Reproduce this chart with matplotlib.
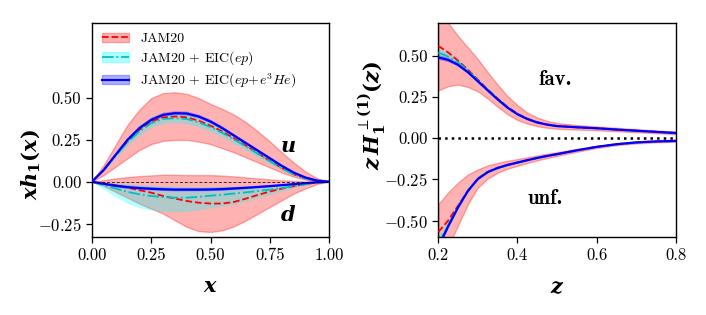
import numpy as np
import matplotlib
matplotlib.use("Agg")
import matplotlib.pyplot as plt
from matplotlib.patches import Patch
from matplotlib.lines import Line2D

plt.rcParams['font.family'] = 'serif'
plt.rcParams['font.serif'] = ['cmr10']
plt.rcParams['mathtext.fontset'] = 'cm'
plt.rcParams['axes.formatter.use_mathtext'] = True
plt.rcParams['mathtext.rm'] = 'DejaVu Serif:bold'
plt.rcParams['mathtext.it'] = 'DejaVu Serif:italic:bold'
plt.rcParams['mathtext.bf'] = 'DejaVu Serif:bold'

# ---------------- left panel: x h1(x) ----------------
x = [0, 0.05, 0.1, 0.15, 0.2, 0.25, 0.3, 0.35, 0.4, 0.45, 0.5,
     0.55, 0.6, 0.65, 0.7, 0.75, 0.8, 0.85, 0.9, 0.95, 1.0]

u_jam = [0, 0.07, 0.16, 0.24, 0.31, 0.36, 0.385, 0.39, 0.385, 0.365, 0.335,
         0.30, 0.258, 0.215, 0.17, 0.125, 0.082, 0.045, 0.019, 0.005, 0]
u_jam_hi = [0, 0.10, 0.22, 0.34, 0.43, 0.50, 0.53, 0.535, 0.525, 0.50, 0.465,
            0.435, 0.40, 0.355, 0.30, 0.24, 0.175, 0.115, 0.06, 0.02, 0]
u_jam_lo = [0, 0.04, 0.09, 0.14, 0.19, 0.225, 0.245, 0.25, 0.25, 0.24, 0.225,
            0.20, 0.175, 0.145, 0.115, 0.085, 0.055, 0.03, 0.012, 0.003, 0]
u_ep = [0, 0.07, 0.155, 0.235, 0.30, 0.35, 0.375, 0.38, 0.375, 0.355, 0.327,
        0.292, 0.252, 0.21, 0.166, 0.122, 0.08, 0.044, 0.019, 0.005, 0]
u_ep_hi = [0, 0.08, 0.175, 0.26, 0.33, 0.38, 0.405, 0.41, 0.405, 0.385, 0.357,
           0.32, 0.278, 0.233, 0.185, 0.137, 0.091, 0.052, 0.023, 0.006, 0]
u_ep_lo = [0, 0.06, 0.135, 0.21, 0.27, 0.32, 0.345, 0.35, 0.345, 0.325, 0.297,
           0.264, 0.226, 0.187, 0.147, 0.107, 0.069, 0.036, 0.015, 0.004, 0]
u_he = [0, 0.07, 0.16, 0.25, 0.32, 0.37, 0.40, 0.41, 0.408, 0.39, 0.36,
        0.32, 0.275, 0.23, 0.185, 0.14, 0.095, 0.055, 0.025, 0.007, 0]
u_he_hi = [0, 0.075, 0.168, 0.26, 0.332, 0.382, 0.412, 0.422, 0.42, 0.401, 0.371,
           0.331, 0.285, 0.239, 0.193, 0.147, 0.101, 0.059, 0.028, 0.008, 0]
u_he_lo = [0, 0.065, 0.152, 0.24, 0.308, 0.358, 0.388, 0.398, 0.396, 0.379, 0.349,
           0.309, 0.265, 0.221, 0.177, 0.133, 0.089, 0.051, 0.022, 0.006, 0]

d_jam = [0, -0.01, -0.02, -0.035, -0.05, -0.065, -0.085, -0.10, -0.115, -0.125, -0.13,
         -0.13, -0.12, -0.10, -0.078, -0.058, -0.041, -0.026, -0.013, -0.004, 0]
d_jam_hi = [0, 0.01, 0.02, 0.028, 0.034, 0.038, 0.042, 0.042, 0.04, 0.04, 0.04,
            0.037, 0.032, 0.026, 0.02, 0.014, 0.009, 0.005, 0.002, 0.0005, 0]
d_jam_lo = [0, -0.025, -0.06, -0.095, -0.13, -0.16, -0.19, -0.23, -0.27, -0.295, -0.30,
            -0.29, -0.265, -0.23, -0.19, -0.15, -0.11, -0.07, -0.04, -0.012, 0]
d_ep = [0, -0.02, -0.04, -0.06, -0.075, -0.085, -0.092, -0.095, -0.095, -0.09, -0.083,
        -0.077, -0.07, -0.063, -0.055, -0.047, -0.037, -0.026, -0.015, -0.005, 0]
d_ep_hi = [0, -0.005, -0.01, -0.015, -0.02, -0.025, -0.028, -0.03, -0.032, -0.033, -0.033,
           -0.032, -0.03, -0.028, -0.025, -0.022, -0.018, -0.013, -0.008, -0.003, 0]
d_ep_lo = [0, -0.045, -0.09, -0.13, -0.157, -0.172, -0.18, -0.182, -0.18, -0.172, -0.16,
           -0.15, -0.138, -0.12, -0.1, -0.08, -0.06, -0.04, -0.02, -0.007, 0]
d_he = [0, -0.012, -0.024, -0.032, -0.038, -0.042, -0.045, -0.047, -0.047, -0.047, -0.046,
        -0.044, -0.04, -0.036, -0.031, -0.026, -0.02, -0.014, -0.008, -0.003, 0]
d_he_hi = [0, -0.006, -0.015, -0.022, -0.028, -0.032, -0.035, -0.037, -0.037, -0.037, -0.036,
           -0.034, -0.031, -0.028, -0.024, -0.02, -0.015, -0.01, -0.005, -0.002, 0]
d_he_lo = [0, -0.018, -0.033, -0.042, -0.048, -0.052, -0.055, -0.057, -0.057, -0.057, -0.056,
           -0.054, -0.049, -0.044, -0.038, -0.032, -0.025, -0.018, -0.011, -0.004, 0]

# ---------------- right panel: z H1^(1)(z) ----------------
z = [0.2, 0.225, 0.25, 0.275, 0.3, 0.325, 0.35, 0.375, 0.4, 0.425, 0.45, 0.475, 0.5,
     0.55, 0.6, 0.65, 0.7, 0.75, 0.8]

fav_jam = [0.56, 0.52, 0.47, 0.415, 0.355, 0.295, 0.24, 0.19, 0.148, 0.118, 0.097, 0.083, 0.074,
           0.066, 0.06, 0.053, 0.046, 0.039, 0.032]
fav_jam_hi = [0.78, 0.70, 0.62, 0.55, 0.48, 0.40, 0.325, 0.255, 0.20, 0.155, 0.125, 0.105, 0.092,
              0.08, 0.071, 0.063, 0.055, 0.047, 0.04]
fav_jam_lo = [0.29, 0.315, 0.325, 0.31, 0.284, 0.24, 0.19, 0.145, 0.11, 0.088, 0.073, 0.063, 0.057,
              0.052, 0.048, 0.042, 0.036, 0.03, 0.024]
fav_ep = [0.52, 0.495, 0.46, 0.41, 0.35, 0.293, 0.237, 0.187, 0.146, 0.117, 0.096, 0.082, 0.073,
          0.066, 0.06, 0.052, 0.045, 0.038, 0.031]
fav_ep_hi = [0.55, 0.52, 0.48, 0.428, 0.366, 0.306, 0.248, 0.196, 0.153, 0.122, 0.1, 0.086, 0.077,
             0.07, 0.064, 0.056, 0.049, 0.042, 0.035]
fav_ep_lo = [0.49, 0.47, 0.44, 0.392, 0.334, 0.28, 0.226, 0.178, 0.139, 0.112, 0.092, 0.078, 0.069,
             0.062, 0.056, 0.048, 0.041, 0.034, 0.027]
fav_he = [0.49, 0.475, 0.445, 0.40, 0.345, 0.29, 0.235, 0.185, 0.145, 0.116, 0.095, 0.082, 0.073,
          0.066, 0.06, 0.052, 0.045, 0.038, 0.031]
fav_he_hi = [0.505, 0.488, 0.456, 0.41, 0.354, 0.298, 0.242, 0.191, 0.15, 0.12, 0.099, 0.085, 0.076,
             0.069, 0.063, 0.055, 0.048, 0.041, 0.034]
fav_he_lo = [0.475, 0.462, 0.434, 0.39, 0.336, 0.282, 0.228, 0.179, 0.14, 0.112, 0.091, 0.079, 0.07,
             0.063, 0.057, 0.049, 0.042, 0.035, 0.028]

unf_jam = [-0.57, -0.50, -0.41, -0.32, -0.245, -0.205, -0.18, -0.162, -0.148, -0.133, -0.12, -0.108, -0.097,
           -0.074, -0.053, -0.037, -0.026, -0.02, -0.017]
unf_jam_hi = [-0.40, -0.33, -0.27, -0.22, -0.19, -0.165, -0.15, -0.137, -0.127, -0.116, -0.105, -0.095, -0.085,
              -0.065, -0.047, -0.032, -0.02, -0.013, -0.008]
unf_jam_lo = [-0.85, -0.66, -0.53, -0.40, -0.30, -0.245, -0.21, -0.185, -0.168, -0.151, -0.135, -0.121, -0.108,
              -0.083, -0.06, -0.043, -0.032, -0.026, -0.022]
unf_ep = [-0.64, -0.53, -0.418, -0.32, -0.247, -0.206, -0.181, -0.163, -0.149, -0.135, -0.121, -0.109, -0.098,
          -0.075, -0.054, -0.038, -0.027, -0.021, -0.018]
unf_ep_hi = [-0.60, -0.50, -0.398, -0.305, -0.236, -0.197, -0.173, -0.156, -0.143, -0.13, -0.116, -0.104, -0.093,
             -0.071, -0.05, -0.035, -0.024, -0.018, -0.015]
unf_ep_lo = [-0.68, -0.56, -0.438, -0.335, -0.258, -0.215, -0.189, -0.17, -0.155, -0.14, -0.126, -0.114, -0.103,
             -0.079, -0.058, -0.041, -0.03, -0.024, -0.021]
unf_he = [-0.66, -0.535, -0.42, -0.32, -0.248, -0.206, -0.181, -0.163, -0.148, -0.134, -0.12, -0.108, -0.097,
          -0.074, -0.053, -0.037, -0.026, -0.02, -0.017]
unf_he_hi = [-0.64, -0.52, -0.41, -0.312, -0.242, -0.201, -0.177, -0.159, -0.145, -0.131, -0.117, -0.105, -0.094,
             -0.071, -0.05, -0.034, -0.023, -0.017, -0.014]
unf_he_lo = [-0.68, -0.55, -0.43, -0.328, -0.254, -0.211, -0.185, -0.167, -0.151, -0.137, -0.123, -0.111, -0.1,
             -0.077, -0.056, -0.04, -0.029, -0.023, -0.02]

labels = ["JAM20", r"JAM20 $+$ EIC$(ep)$", r"JAM20 $+$ EIC$(ep\!+\!e^3He)$"]

fig = plt.figure(figsize=(7.06, 3.15), dpi=100)
ax1 = fig.add_axes([0.130, 0.2476, 0.3366, 0.680])
ax2 = fig.add_axes([0.6208, 0.2476, 0.3363, 0.680])


def draw(ax, xs, jam, jhi, jlo, ep, ehi, elo, he, hhi, hlo):
    ax.fill_between(xs, jlo, jhi, facecolor='red', edgecolor='red', alpha=0.3, lw=1.0, zorder=1)
    ax.fill_between(xs, elo, ehi, facecolor='cyan', edgecolor='none', alpha=0.3, zorder=2)
    ax.fill_between(xs, hlo, hhi, facecolor='blue', edgecolor='none', alpha=0.3, zorder=3)
    ax.plot(xs, jam, color='red', ls='--', lw=1.3, zorder=4)
    ax.plot(xs, ep, color='c', ls='-.', lw=1.3, zorder=5)
    ax.plot(xs, he, color='blue', ls='-', lw=1.6, zorder=6)


draw(ax1, x, u_jam, u_jam_hi, u_jam_lo, u_ep, u_ep_hi, u_ep_lo, u_he, u_he_hi, u_he_lo)
draw(ax1, x, d_jam, d_jam_hi, d_jam_lo, d_ep, d_ep_hi, d_ep_lo, d_he, d_he_hi, d_he_lo)
ax1.axhline(0, color='k', ls='--', lw=0.7, dashes=(3, 2), zorder=7, alpha=0.8)
ax1.set_xlim(0, 1)
ax1.set_ylim(-0.33, 0.95)
ax1.set_xticks([0, 0.25, 0.5, 0.75, 1.0])
ax1.set_xticklabels(["0.00", "0.25", "0.50", "0.75", "1.00"])
ax1.set_yticks([-0.25, 0, 0.25, 0.5])
ax1.set_yticklabels([r"$-0.25$", "0.00", "0.25", "0.50"])
ax1.text(0.826, 0.207, r"$u$", math_fontfamily='custom', fontsize=15, ha='center', va='center')
ax1.text(0.826, -0.2, r"$d$", math_fontfamily='custom', fontsize=15, ha='center', va='center')
ax1.set_xlabel(r"$x$", math_fontfamily='custom', fontsize=15)
ax1.set_ylabel(r"$xh_1(x)$", math_fontfamily='custom', fontsize=15)
ax1.xaxis.set_label_coords(0.5, -0.19)
ax1.yaxis.set_label_coords(-0.209, 0.336)

handles = [
    (Patch(facecolor='red', edgecolor='red', alpha=0.3), Line2D([], [], color='red', ls='--', lw=1.3)),
    (Patch(facecolor='cyan', edgecolor='cyan', alpha=0.3), Line2D([], [], color='c', ls='-.', lw=1.3)),
    (Patch(facecolor='blue', edgecolor='blue', alpha=0.3), Line2D([], [], color='blue', ls='-', lw=1.6)),
]
ax1.legend(handles, labels, loc='upper left', frameon=False, fontsize=10,
           handlelength=2.0, borderaxespad=0.3, labelspacing=0.3)

draw(ax2, z, fav_jam, fav_jam_hi, fav_jam_lo, fav_ep, fav_ep_hi, fav_ep_lo, fav_he, fav_he_hi, fav_he_lo)
draw(ax2, z, unf_jam, unf_jam_hi, unf_jam_lo, unf_ep, unf_ep_hi, unf_ep_lo, unf_he, unf_he_hi, unf_he_lo)
ax2.axhline(0, color='k', ls=':', lw=1.8, zorder=7)
ax2.set_xlim(0.2, 0.8)
ax2.set_ylim(-0.6, 0.7)
ax2.set_xticks([0.2, 0.4, 0.6, 0.8])
ax2.set_xticklabels(["0.2", "0.4", "0.6", "0.8"])
ax2.set_yticks([-0.5, -0.25, 0, 0.25, 0.5])
ax2.set_yticklabels([r"$-0.50$", r"$-0.25$", "0.00", "0.25", "0.50"])
ax2.text(0.495, 0.356, "fav.", fontfamily='cmb10', fontsize=15, ha='center', va='center')
ax2.text(0.47, -0.366, "unf.", fontfamily='cmb10', fontsize=15, ha='center', va='center')
ax2.set_xlabel(r"$z$", math_fontfamily='custom', fontsize=15)
ax2.set_ylabel(r"$z\,H_1^{\perp(1)}(z)$", math_fontfamily='custom', fontsize=15)
ax2.xaxis.set_label_coords(0.5, -0.195)
ax2.yaxis.set_label_coords(-0.212, 0.57)

for ax in (ax1, ax2):
    ax.tick_params(direction='out', length=4, width=0.9, labelsize=12)
    for s in ax.spines.values():
        s.set_linewidth(1.0)

fig.savefig("out.png", dpi=100)
